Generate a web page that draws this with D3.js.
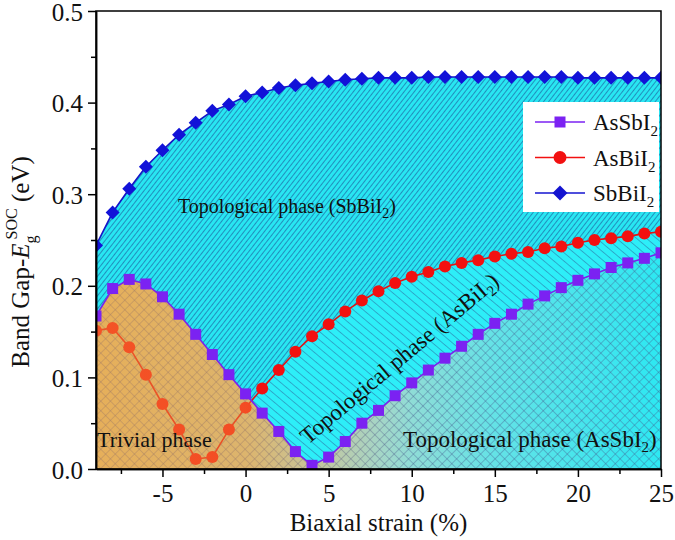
<!DOCTYPE html>
<html>
<head>
<meta charset="utf-8">
<script src="https://cdn.jsdelivr.net/npm/d3@7"></script>
<style>
  body { margin: 0; background: #fff; }
  text { font-family: "Liberation Serif", "Times New Roman", serif; fill: #111; }
</style>
</head>
<body>
<div class="chart"></div>
<script>
var strain = [-9, -8, -7, -6, -5, -4, -3, -2, -1, 0, 1, 2, 3, 4, 5, 6, 7, 8, 9, 10,
              11, 12, 13, 14, 15, 16, 17, 18, 19, 20, 21, 22, 23, 24, 25];
var asSbI2 = [0.167, 0.197, 0.207, 0.202, 0.188, 0.169, 0.147, 0.125, 0.103, 0.082,
              0.061, 0.041, 0.019, 0.004, 0.013, 0.030, 0.050, 0.064, 0.080, 0.094,
              0.108, 0.121, 0.134, 0.147, 0.159, 0.169, 0.180, 0.189, 0.198, 0.206,
              0.213, 0.220, 0.225, 0.230, 0.236];
var asBiI2 = [0.151, 0.154, 0.133, 0.103, 0.071, 0.043, 0.011, 0.013, 0.043, 0.067,
              0.088, 0.108, 0.128, 0.145, 0.158, 0.172, 0.184, 0.194, 0.203, 0.210,
              0.215, 0.221, 0.225, 0.228, 0.232, 0.235, 0.237, 0.241, 0.243, 0.247,
              0.250, 0.252, 0.254, 0.257, 0.259];
var sbBiI2 = [0.244, 0.280, 0.306, 0.330, 0.348, 0.365, 0.378, 0.391, 0.398, 0.407,
              0.411, 0.416, 0.419, 0.421, 0.423, 0.425, 0.426, 0.427, 0.427, 0.427,
              0.428, 0.428, 0.428, 0.428, 0.428, 0.428, 0.428, 0.428, 0.428, 0.427,
              0.427, 0.427, 0.427, 0.427, 0.427];
var xTicks = [-5, 0, 5, 10, 15, 20, 25],
    xMinor = [-7.5, -2.5, 2.5, 7.5, 12.5, 17.5, 22.5],
    yTicks = [0, 0.1, 0.2, 0.3, 0.4, 0.5],
    yMinor = [0.05, 0.15, 0.25, 0.35, 0.45];

var W = 675, H = 540,
    p = [11, 14, 71, 96],
    w = W - p[1] - p[3],
    h = H - p[0] - p[2];

var x = d3.scaleLinear().domain([-9, 25]).range([0, w]),
    y = d3.scaleLinear().domain([0, 0.5]).range([h, 0]);

var svg = d3.select(".chart").append("svg")
    .attr("width", W)
    .attr("height", H);
var defs = svg.append("defs");

defs.append("clipPath").attr("id", "clip")
  .append("rect").attr("width", w).attr("height", h);

function hatch(id, size, angle, color, sw, cross) {
  var pt = defs.append("pattern")
      .attr("id", id)
      .attr("patternUnits", "userSpaceOnUse")
      .attr("width", size).attr("height", size)
      .attr("patternTransform", "rotate(" + angle + ")");
  pt.append("line").attr("x1", 0).attr("y1", 0).attr("x2", 0).attr("y2", size)
    .attr("stroke", color).attr("stroke-width", sw);
  if (cross) {
    pt.append("line").attr("x1", 0).attr("y1", 0).attr("x2", size).attr("y2", 0)
      .attr("stroke", color).attr("stroke-width", sw);
  }
}
hatch("hDense", 4, 38, "#1a3a88", 1.0, false);
hatch("hBack", 6.4, -50, "#2a4a8a", 0.8, false);
hatch("hCross", 6.8, 45, "#43558a", 0.7, true);

function grad(id, stops) {
  var g = defs.append("linearGradient").attr("id", id)
      .attr("gradientUnits", "userSpaceOnUse")
      .attr("x1", x(-9)).attr("x2", x(25)).attr("y1", 0).attr("y2", 0);
  stops.forEach(function(s) {
    g.append("stop").attr("offset", (s[0] + 9) / 34)
      .attr("stop-color", s[1]).attr("stop-opacity", s[2] == null ? 1 : s[2]);
  });
}
grad("gBase", [[-9, "rgb(215,200,120)"], [0, "rgb(200,205,150)"], [4, "rgb(186,208,178)"],
               [8, "rgb(160,218,208)"], [15, "rgb(100,226,230)"], [25, "rgb(45,232,242)"]]);
grad("gTint", [[-9, "rgb(245,150,60)", 0.5], [0, "rgb(245,150,60)", 0.45],
               [4, "rgb(245,150,60)", 0.2], [10, "rgb(245,150,60)", 0]]);

var vis = svg.append("g")
    .attr("transform", "translate(" + p[3] + "," + p[0] + ")");
var plot = vis.append("g").attr("clip-path", "url(#clip)");

function area(vals) {
  return d3.area()
      .x(function(d, i) { return x(strain[i]); })
      .y0(h)
      .y1(function(d) { return y(d); })(vals);
}
function line(vals) {
  return d3.line()
      .x(function(d, i) { return x(strain[i]); })
      .y(function(d) { return y(d); })(vals);
}

// phase regions
plot.append("path").attr("d", area(sbBiI2)).attr("fill", "rgb(40,230,242)");
plot.append("path").attr("d", area(sbBiI2)).attr("fill", "url(#hDense)");
plot.append("path").attr("d", area(asBiI2)).attr("fill", "rgb(45,238,248)");
plot.append("path").attr("d", area(asBiI2)).attr("fill", "url(#hBack)");
plot.append("path").attr("d", area(asSbI2)).attr("fill", "url(#gBase)");
plot.append("path").attr("d", area(asSbI2)).attr("fill", "url(#hCross)");

// AsBiI2 (drawn under the trivial tint)
plot.append("path").attr("d", line(asBiI2))
    .attr("fill", "none").attr("stroke", "#e01414").attr("stroke-width", 1.6);
plot.selectAll(".c").data(asBiI2).enter().append("circle")
    .attr("cx", function(d, i) { return x(strain[i]); })
    .attr("cy", function(d) { return y(d); })
    .attr("r", 6)
    .attr("fill", "#f21010");

plot.append("path").attr("d", area(asSbI2)).attr("fill", "url(#gTint)");

// AsSbI2
plot.append("path").attr("d", line(asSbI2))
    .attr("fill", "none").attr("stroke", "#7a22ee").attr("stroke-width", 1.6);
plot.selectAll(".s").data(asSbI2).enter().append("rect")
    .attr("x", function(d, i) { return x(strain[i]) - 5.5; })
    .attr("y", function(d) { return y(d) - 5.5; })
    .attr("width", 11).attr("height", 11)
    .attr("fill", "#7b22f2");

// SbBiI2
plot.append("path").attr("d", line(sbBiI2))
    .attr("fill", "none").attr("stroke", "#1414c8").attr("stroke-width", 1.6);
plot.selectAll(".d").data(sbBiI2).enter().append("path")
    .attr("transform", function(d, i) { return "translate(" + x(strain[i]) + "," + y(d) + ")"; })
    .attr("d", "M0,-7L7,0L0,7L-7,0Z")
    .attr("fill", "#1212d8");

// region labels
vis.append("text").attr("x", 82).attr("y", 202).attr("font-size", 20)
    .html('Topological phase (SbBiI<tspan font-size="14" dy="5">2</tspan><tspan dy="-5">)</tspan>');
vis.append("text").attr("x", 1).attr("y", 436).attr("font-size", 22)
    .text("Trivial phase");
vis.append("text").attr("x", 307).attr("y", 436).attr("font-size", 23)
    .html('Topological phase (AsSbI<tspan font-size="15" dy="5">2</tspan><tspan dy="-5">)</tspan>');
vis.append("text").attr("transform", "translate(212,434) rotate(-40)").attr("font-size", 23)
    .html('Topological phase (AsBiI<tspan font-size="15" dy="5">2</tspan><tspan dy="-5">)</tspan>');

// legend
var names = ["AsSbI", "AsBiI", "SbBiI"],
    colors = ["#7b22f2", "#f21010", "#1414d0"];
var lg = vis.append("g").attr("transform", "translate(427,91)");
lg.append("rect").attr("width", 136).attr("height", 110).attr("fill", "#fff");
names.forEach(function(n, i) {
  var yy = 20 + i * 35.5;
  lg.append("line").attr("x1", 12).attr("x2", 62).attr("y1", yy).attr("y2", yy)
    .attr("stroke", colors[i]).attr("stroke-width", 1.6);
  if (i == 0) lg.append("rect").attr("x", 31.5).attr("y", yy - 5.5).attr("width", 11).attr("height", 11).attr("fill", colors[i]);
  if (i == 1) lg.append("circle").attr("cx", 37).attr("cy", yy).attr("r", 6.5).attr("fill", colors[i]);
  if (i == 2) lg.append("path").attr("transform", "translate(37," + yy + ")").attr("d", "M0,-7.5L7.5,0L0,7.5L-7.5,0Z").attr("fill", colors[i]);
  lg.append("text").attr("x", 70).attr("y", yy + 8).attr("font-size", 23)
    .html(n + '<tspan font-size="15" dy="6">2</tspan>');
});

// axes
var fmtX = function(d) { return String(d); };
vis.append("g").attr("transform", "translate(0," + h + ")")
    .call(d3.axisBottom(x).tickValues(xTicks).tickFormat(fmtX).tickSize(8).tickSizeOuter(0).tickPadding(7));
vis.append("g").attr("transform", "translate(0," + h + ")")
    .call(d3.axisBottom(x).tickValues(xMinor).tickSize(5).tickFormat("").tickSizeOuter(0));
var ya = vis.append("g")
    .call(d3.axisLeft(y).tickValues(yTicks).tickFormat(d3.format(".1f")).tickSize(8).tickSizeOuter(0).tickPadding(5));
vis.append("g")
    .call(d3.axisLeft(y).tickValues(yMinor).tickSize(5).tickFormat("").tickSizeOuter(0));
vis.selectAll(".tick text").attr("font-size", 25).attr("font-family", "Liberation Serif").attr("fill", "#111");
vis.selectAll(".tick line, .domain").attr("stroke", "#000").attr("stroke-width", 1.5);
ya.selectAll(".tick text").attr("dy", "0.36em");

vis.append("rect").attr("width", w).attr("height", h)
    .attr("fill", "none").attr("stroke", "#000").attr("stroke-width", 1.5);

// axis titles
vis.append("text").attr("x", w / 2).attr("y", h + 62).attr("text-anchor", "middle")
    .attr("font-size", 25).text("Biaxial strain (%)");
vis.append("text").attr("transform", "translate(-67," + (h / 2 + 22) + ") rotate(-90)")
    .attr("text-anchor", "middle").attr("font-size", 25)
    .html('Band Gap-<tspan font-style="italic">E</tspan><tspan font-size="16" dy="7">g</tspan>' +
          '<tspan font-size="16" dx="-4" dy="-19">SOC</tspan><tspan dy="12"> (eV)</tspan>');
</script>
</body>
</html>
